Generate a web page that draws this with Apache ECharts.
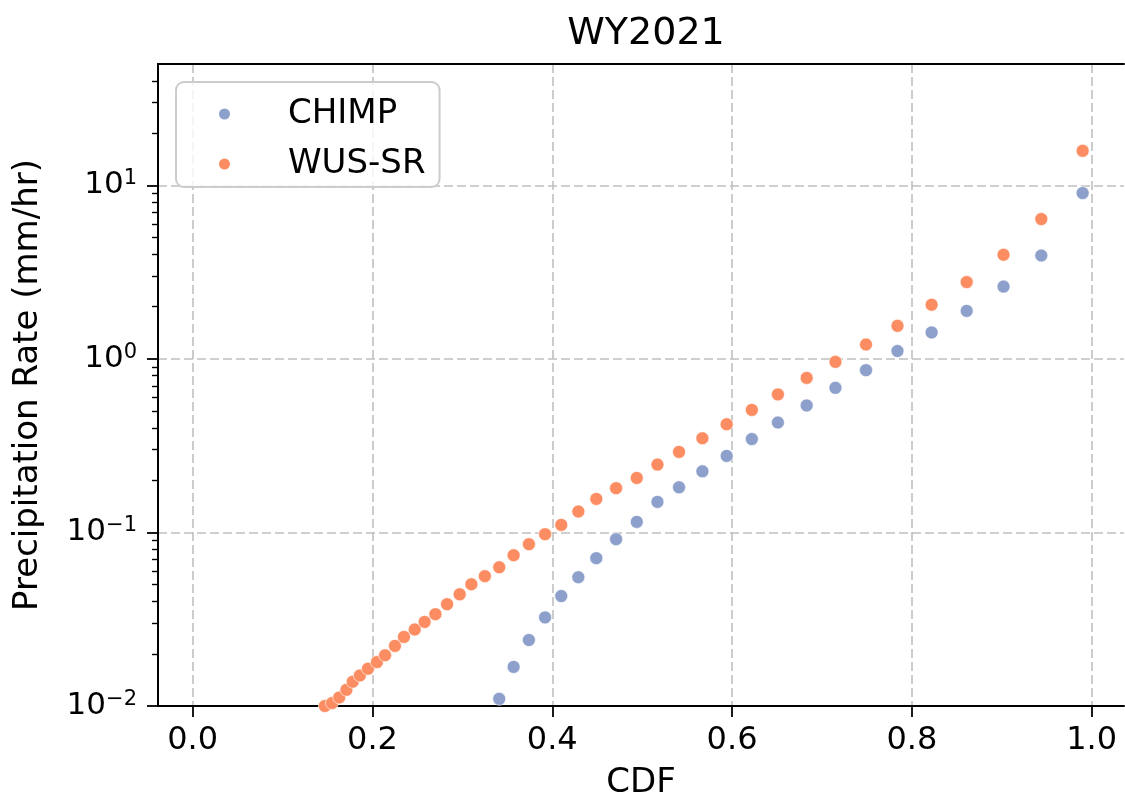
<!DOCTYPE html>
<html>
<head>
<meta charset="utf-8">
<script src="https://cdn.jsdelivr.net/npm/echarts@6/dist/echarts.min.js"></script>
<style>
  html, body { margin: 0; padding: 0; background: #fff; }
  #main { width: 1125px; height: 799px; }
</style>
</head>
<body>
<div id="main"></div>
<script>
// CDF levels shared by both series
var cdf = [0.147, 0.155, 0.163, 0.171, 0.178, 0.186, 0.195, 0.205, 0.214, 0.225,
           0.235, 0.247, 0.258, 0.270, 0.283, 0.297, 0.310, 0.325, 0.341, 0.357,
           0.374, 0.392, 0.410, 0.429, 0.449, 0.471, 0.494, 0.517, 0.541, 0.567,
           0.594, 0.622, 0.651, 0.683, 0.715, 0.749, 0.784, 0.822, 0.861, 0.902,
           0.944, 0.990];
// precipitation rate (mm/hr)
var wusValues = [0.0100, 0.0104, 0.0112, 0.0124, 0.0138, 0.0150, 0.0164, 0.0179, 0.0196, 0.0222,
                 0.0250, 0.0276, 0.0305, 0.0338, 0.0386, 0.0440, 0.0503, 0.0560, 0.0630, 0.0739,
                 0.0856, 0.0977, 0.1105, 0.132, 0.156, 0.180, 0.206, 0.246, 0.291, 0.349,
                 0.420, 0.508, 0.624, 0.777, 0.961, 1.21, 1.55, 2.05, 2.77, 3.98,
                 6.39, 15.8];
var chimpValues = [null, null, null, null, null, null, null, null, null, null,
                   null, null, null, null, null, null, null, null, 0.0110, 0.0168,
                   0.0240, 0.0324, 0.0430, 0.0552, 0.0711, 0.0914, 0.115, 0.150, 0.182, 0.225,
                   0.276, 0.345, 0.430, 0.539, 0.681, 0.861, 1.11, 1.42, 1.89, 2.61,
                   3.94, 9.02];
var xTicks = [0.0, 0.2, 0.4, 0.6, 0.8, 1.0];
var yTicks = [0.01, 0.1, 1, 10];
var yMinorTicks = [0.02, 0.03, 0.04, 0.05, 0.06, 0.07, 0.08, 0.09,
                   0.2, 0.3, 0.4, 0.5, 0.6, 0.7, 0.8, 0.9,
                   2, 3, 4, 5, 6, 7, 8, 9,
                   20, 30, 40];

function pairs(xs, ys) {
	var out = [];
	for (var i = 0; i < xs.length; i++) {
		if (ys[i] != null) out.push([xs[i], ys[i]]);
	}
	return out;
}

var FONT = 'DejaVu Sans';
var gridDash = {color: '#c0c0c0', width: 1.6, type: [9, 4]};

var myChart = echarts.init(document.getElementById('main'));
var option = {
	animation: false,
	title: {
		text: 'WY2021',
		left: 641,
		top: 10,
		textAlign: 'center',
		textStyle: {fontFamily: FONT, fontSize: 38, fontWeight: 'normal', color: '#000'}
	},
	legend: {
		left: 176,
		top: 82,
		orient: 'vertical',
		icon: 'circle',
		itemWidth: 13,
		itemHeight: 13,
		itemGap: 16,
		padding: [15, 14, 6, 41],
		backgroundColor: 'rgba(255,255,255,0.8)',
		borderColor: '#cccccc',
		borderWidth: 2,
		borderRadius: 8,
		textStyle: {fontFamily: FONT, fontSize: 34, color: '#000', lineHeight: 34, padding: [0, 0, 0, 52]},
		data: ['CHIMP', 'WUS-SR']
	},
	grid: {left: 158, top: 64, right: 1, bottom: 93, outerBoundsMode: 'none', containLabel: false},
	xAxis: [{
		type: 'value',
		min: -0.0386,
		max: 1.036,
		name: 'CDF',
		nameLocation: 'middle',
		nameGap: 60,
		nameTextStyle: {fontFamily: FONT, fontSize: 34, color: '#000'},
		axisLine: {onZero: false, lineStyle: {color: '#000', width: 2}},
		axisTick: {show: true, length: 11, lineStyle: {color: '#000', width: 1.8}, customValues: xTicks},
		axisLabel: {
			fontFamily: FONT, fontSize: 32, color: '#000', margin: 19,
			customValues: xTicks,
			formatter: function (v) { return v.toFixed(1); }
		},
		splitLine: {show: true, lineStyle: gridDash}
	}, {
		type: 'value',
		position: 'top',
		min: -0.0386,
		max: 1.036,
		axisLine: {show: true, onZero: false, lineStyle: {color: '#000', width: 2}},
		axisTick: {show: false},
		axisLabel: {show: false},
		splitLine: {show: false}
	}],
	yAxis: [{
		type: 'log',
		logBase: 10,
		min: 0.01,
		max: 50,
		name: 'Precipitation Rate (mm/hr)',
		nameLocation: 'middle',
		nameGap: 113,
		nameTextStyle: {fontFamily: FONT, fontSize: 34, color: '#000'},
		axisLine: {show: true, onZero: false, lineStyle: {color: '#000', width: 2}},
		axisTick: {show: true, length: 11, lineStyle: {color: '#000', width: 1.8}, customValues: yTicks},
		axisLabel: {
			margin: 21,
			customValues: yTicks,
			formatter: function (v) {
				var e = Math.round(Math.log(v) / Math.LN10);
				var s = e < 0 ? '\u2212' + (-e) : '' + e;
				return '{b|10}{s|' + s + '}';
			},
			rich: {
				b: {fontFamily: FONT, fontSize: 31, color: '#000', lineHeight: 34},
				s: {fontFamily: FONT, fontSize: 21, color: '#000', verticalAlign: 'top', lineHeight: 22}
			}
		},
		splitLine: {show: true, lineStyle: gridDash}
	}, {
		type: 'log',
		logBase: 10,
		min: 0.01,
		max: 50,
		position: 'left',
		axisLine: {show: false, onZero: false},
		axisTick: {show: true, length: 6, lineStyle: {color: '#000', width: 1.4}, customValues: yMinorTicks},
		axisLabel: {show: false},
		splitLine: {show: false}
	}],
	series: [{
		name: 'CHIMP',
		type: 'scatter',
		symbol: 'circle',
		symbolSize: 13,
		clip: true,
		itemStyle: {color: '#8da0cb', borderColor: '#fff', borderWidth: 0.6, opacity: 1},
		data: pairs(cdf, chimpValues)
	}, {
		name: 'WUS-SR',
		type: 'scatter',
		symbol: 'circle',
		symbolSize: 13,
		clip: true,
		itemStyle: {color: '#fc8d62', borderColor: '#fff', borderWidth: 0.6, opacity: 1},
		data: pairs(cdf, wusValues)
	}]
};
myChart.setOption(option, true);
</script>
</body>
</html>
